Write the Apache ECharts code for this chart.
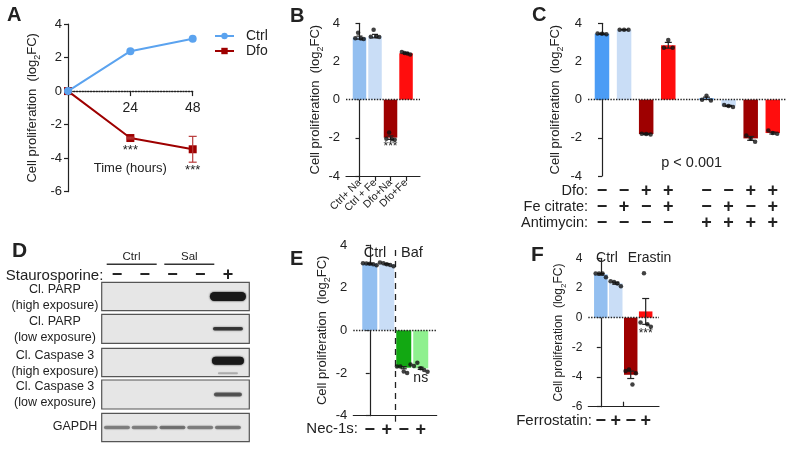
<!DOCTYPE html>
<html>
<head>
<meta charset="utf-8">
<script src="https://cdn.jsdelivr.net/npm/echarts@6.0.0/dist/echarts.min.js"></script>
<style>
  html, body { margin: 0; padding: 0; background: #fff; }
  #main { width: 797px; height: 452px; }
</style>
</head>
<body>
<div id="main"></div>
<script>
// ---- A: time course ----
const hoursA = [0, 24, 48];
const ctrlA = [0, 2.38, 3.12];
const dfoA = [0, -2.8, -3.47];
const dfoSemA = [0, 0.05, 0.77];

// ---- B: iron rescue ----
const catsB = ['Ctrl+ Na', 'Ctrl + Fe', 'Dfo+Na', 'Dfo+Fe'];
const meanB = [3.25, 3.33, -1.99, 2.43];
const semB = [0.08, 0.09, 0.09, 0.03];
const dotsB = [
  [3.22, 3.5, 3.2, 3.18],
  [3.3, 3.66, 3.32, 3.28],
  [-2.05, -1.72, -2.08, -2.1],
  [2.5, 2.44, 2.42, 2.36]
];

// ---- C: antimycin ----
const dfoC = ['−', '−', '+', '+', '−', '−', '+', '+'];
const feC = ['−', '+', '−', '+', '−', '+', '−', '+'];
const antiC = ['−', '−', '−', '−', '+', '+', '+', '+'];
const meanC = [3.45, 3.66, -1.8, 2.85, 0.07, -0.33, -2.03, -1.75];
const semC = [0.03, 0.01, 0.03, 0.15, 0.06, 0.03, 0.1, 0.05];
const dotsC = [
  [3.47, 3.45, 3.42],
  [3.66, 3.66, 3.66],
  [-1.78, -1.8, -1.83],
  [2.72, 3.12, 2.72],
  [0.0, 0.2, -0.05],
  [-0.28, -0.33, -0.38],
  [-1.88, -2.05, -2.2],
  [-1.62, -1.75, -1.78]
];

// ---- D: western blot (relative band intensity per lane) ----
const signsD = ['−', '−', '−', '−', '+'];
const parpHigh = [0, 0, 0, 0, 1];
const parpLow = [0, 0, 0, 0, 0.75];
const caspHigh = [0, 0, 0, 0, 1];
const caspHighLower = [0, 0, 0, 0, 0.25];
const caspLow = [0, 0, 0, 0, 0.6];
const gapdh = [0.42, 0.42, 0.48, 0.42, 0.45];

// ---- E: bafilomycin ----
const necE = ['−', '+', '−', '+'];
const meanE = [3.12, 3.1, -1.75, -1.78];
const semE = [0.02, 0.03, 0.05, 0.05];
const dotsE = [
  [3.15, 3.13, 3.12, 3.1, 3.05],
  [3.18, 3.14, 3.1, 3.06, 3.0],
  [-1.7, -1.7, -1.93, -2.0, -1.6],
  [-1.67, -1.52, -1.78, -1.86, -1.94]
];

// ---- F: erastin ----
const ferF = ['−', '+', '−', '+'];
const meanF = [2.92, 2.32, -3.85, 0.42];
const semF = [0.05, 0.07, 0.25, 0.87];
const dotsF = [
  [2.98, 2.98, 2.98, 2.72],
  [2.45, 2.4, 2.3, 2.12],
  [-3.6, -3.5, -4.5, -3.75],
  [-0.32, 3.0, -0.45, -0.62]
];

const FONT = '"Liberation Sans", Arial, sans-serif';
const INK = '#222';
const BLUE_A = '#5ba3ef';
const BLUE_MID = '#93bff0';
const BLUE_LT = '#c9ddf6';
const BLUE_C = '#4b9cf5';
const DARK = '#9e0000';
const RED = '#ff0d0d';
const GREEN = '#12a812';
const LGREEN = '#8ff08f';

const option = {
  animation: false,
  textStyle: { fontFamily: FONT, color: INK },
  grid: [], xAxis: [], yAxis: [], series: [], graphic: []
};

function addGrid(rect, xAxis, yAxis) {
  const gi = option.grid.length;
  option.grid.push(Object.assign({ outerBoundsMode: 'none', containLabel: false }, rect));
  option.xAxis.push(Object.assign({ gridIndex: gi }, xAxis));
  option.yAxis.push(Object.assign({ gridIndex: gi }, yAxis));
  return gi;
}

function propAxis(min, max, fs, nameGap) {
  return {
    type: 'value', min, max, interval: 2,
    axisLine: { show: true, lineStyle: { color: INK, width: 1.2 } },
    axisTick: { show: true, length: 4, lineStyle: { color: INK, width: 1.2 } },
    axisLabel: { color: INK, fontSize: fs, margin: 6 },
    splitLine: { show: false },
    name: '{a|Cell proliferation  (log}{s|2}{a|FC)}',
    nameLocation: 'middle', nameGap,
    nameTextStyle: {
      rich: {
        a: { fontSize: fs, color: INK, lineHeight: fs + 6, fontFamily: FONT },
        s: { fontSize: Math.round(fs * 0.7), color: INK, lineHeight: 6, verticalAlign: 'bottom', fontFamily: FONT }
      }
    }
  };
}

function groupAxis(min, max, ticks, labels, label, tick, line) {
  return {
    type: 'value', min, max, splitLine: { show: false },
    axisLine: { show: line, onZero: false, lineStyle: { color: INK, width: 1.2 } },
    axisTick: tick ? Object.assign({ show: true, lineStyle: { color: INK, width: 1.2 } }, tick) : { show: false },
    axisLabel: Object.assign({
      customValues: ticks, color: INK,
      formatter: v => { const k = ticks.indexOf(v); return k < 0 ? '' : labels[k]; }
    }, label)
  };
}

const signLabel = { fontSize: 18, fontWeight: 'bold', lineHeight: 14 };

function marks(items) {
  return { silent: true, symbol: 'none', label: { show: false }, animation: false, data: items };
}
const zeroMark = { yAxis: 0, lineStyle: { type: 'dotted', color: INK, width: 1.4 } };
function divider(top, bottom) {
  return [{ coord: [1.5, top], lineStyle: { type: [6, 5], color: INK, width: 1.3 } }, { coord: [1.5, bottom] }];
}

function bars(gi, xs, means, colors, width, labels, markData) {
  return {
    type: 'bar', xAxisIndex: gi, yAxisIndex: gi, barWidth: width, z: 2,
    data: means.map((v, i) => {
      const d = { value: [xs[i], v], itemStyle: { color: colors[i] } };
      if (labels && labels[i]) d.label = labels[i];
      return d;
    }),
    markLine: marks(markData)
  };
}

function dots(gi, xs, groups, step) {
  const data = [];
  groups.forEach((g, i) => g.forEach((v, k) => data.push([xs[i] + (k - (g.length - 1) / 2) * step, v])));
  return { type: 'scatter', xAxisIndex: gi, yAxisIndex: gi, symbolSize: 4.5, z: 5, itemStyle: { color: '#111' }, data };
}

function errBars(gi, xs, means, sems, cap, color) {
  return {
    type: 'custom', xAxisIndex: gi, yAxisIndex: gi, z: 4, silent: true,
    data: means.map((m, i) => [xs[i], m - sems[i], m + sems[i]]),
    renderItem: (p, api) => {
      const x = api.value(0);
      const a = api.coord([x, api.value(1)]);
      const b = api.coord([x, api.value(2)]);
      const st = { stroke: color, lineWidth: 1.2 };
      return {
        type: 'group', children: [
          { type: 'line', shape: { x1: a[0], y1: a[1], x2: b[0], y2: b[1] }, style: st },
          { type: 'line', shape: { x1: a[0] - cap, y1: a[1], x2: a[0] + cap, y2: a[1] }, style: st },
          { type: 'line', shape: { x1: b[0] - cap, y1: b[1], x2: b[0] + cap, y2: b[1] }, style: st }
        ]
      };
    }
  };
}

function txt(x, y, s, size, extra) {
  option.graphic.push({
    type: 'text', x, y, silent: true,
    style: Object.assign({ text: s, fontSize: size, fontFamily: FONT, fill: INK, align: 'center', verticalAlign: 'middle' }, extra)
  });
}
function hline(x1, x2, y) {
  option.graphic.push({ type: 'line', silent: true, shape: { x1, y1: y, x2, y2: y }, style: { stroke: '#333', lineWidth: 1.5 } });
}

// ===== Panel A =====
// x axis sits on the zero line: shift it up from the grid bottom by the 0..-6 span
const topA = 24, heightA = 167.7, minA = -6, maxA = 4;
const zeroShiftA = heightA * (0 - minA) / (maxA - minA);
const gA = addGrid({ left: 68, top: topA, width: 124.7, height: heightA }, {
  type: 'value', min: 0, max: 48, interval: 24, offset: -zeroShiftA,
  axisLine: { onZero: false, lineStyle: { color: INK, type: 'dotted', width: 1.4 } },
  axisTick: { show: true, length: 5, lineStyle: { color: INK, width: 1.2 } },
  axisLabel: { fontSize: 14, color: INK, margin: 10, formatter: v => (v === 0 ? '' : String(v)) },
  splitLine: { show: false },
  name: 'Time (hours)', nameLocation: 'middle', nameGap: 71,
  nameTextStyle: { fontSize: 13, color: INK }
}, propAxis(minA, maxA, 13, 26));

const starA = [null, { d: 2 }, { d: 11 }];
option.series.push({
  type: 'line', name: 'Dfo', xAxisIndex: gA, yAxisIndex: gA, z: 3,
  symbol: 'rect', symbolSize: 8,
  lineStyle: { color: DARK, width: 2 }, itemStyle: { color: DARK },
  data: hoursA.map((h, i) => {
    const d = { value: [h, dfoA[i]] };
    if (starA[i]) d.label = { show: true, position: 'bottom', distance: starA[i].d, formatter: '***', fontSize: 13, color: INK };
    return d;
  })
});
option.series.push(errBars(gA, hoursA, dfoA, dfoSemA, 4, '#b83a3a'));
option.series.push({
  type: 'line', name: 'Ctrl', xAxisIndex: gA, yAxisIndex: gA, z: 4,
  symbol: 'circle', symbolSize: 8,
  lineStyle: { color: BLUE_A, width: 2 }, itemStyle: { color: BLUE_A },
  data: hoursA.map((h, i) => [h, ctrlA[i]])
});
option.legend = {
  data: ['Ctrl', 'Dfo'], orient: 'vertical', left: 209, top: 24,
  itemWidth: 19, itemHeight: 8, itemGap: 1,
  textStyle: { fontSize: 14, color: INK, padding: [0, 0, 0, 7] }
};

// ===== Panel B =====
const posB = catsB.map((_, i) => i);
const gB = addGrid({ left: 346, top: 23.3, width: 74, height: 152.7 },
  groupAxis(-0.87, 3.9, posB, catsB, { rotate: 45, fontSize: 10.5, margin: 5 }, { customValues: posB, length: 5 }, true),
  propAxis(-4, 4, 13, 15));
const starB = { show: true, position: 'bottom', distance: 3, formatter: '***', fontSize: 12, color: INK };
option.series.push(bars(gB, posB, meanB, [BLUE_MID, BLUE_LT, DARK, RED], 13.5, [null, null, starB, null], [zeroMark]));
option.series.push(errBars(gB, posB, meanB, semB, 3, INK));
option.series.push(dots(gB, posB, dotsB, 0.18));

// ===== Panel C =====
const posC = meanC.map((_, i) => (i < 4 ? i : i + 0.73));
const rowsC = posC.map((_, i) => dfoC[i] + '\n' + feC[i] + '\n' + antiC[i]);
const gC = addGrid({ left: 588, top: 23.3, width: 198.7, height: 152.7 },
  groupAxis(-0.633, 8.36, posC, rowsC, { fontSize: 18, fontWeight: 'bold', lineHeight: 16, margin: 7 }, null, false),
  propAxis(-4, 4, 13, 23));
option.series.push(bars(gC, posC, meanC, [BLUE_C, BLUE_LT, DARK, RED, BLUE_C, BLUE_LT, DARK, RED], 14.5, null, [zeroMark]));
option.series.push(errBars(gC, posC, meanC, semC, 3.5, INK));
option.series.push(dots(gC, posC, dotsC, 0.2));

// ===== Panel D (blot) =====
const blotBoxes = [
  { top: 282.3, height: 28.4 },
  { top: 314.3, height: 29 },
  { top: 348.3, height: 28.4 },
  { top: 380, height: 29 },
  { top: 413.3, height: 28.4 }
];
const blotBands = [
  [{ v: parpHigh, y: 0, w: 36, h: 9 }],
  [{ v: parpLow, y: 0, w: 30, h: 3.5 }],
  [{ v: caspHigh, y: 0.12, w: 32, h: 8 }, { v: caspHighLower, y: -0.75, w: 20, h: 2 }],
  [{ v: caspLow, y: 0, w: 28, h: 4 }],
  [{ v: gapdh, y: 0, w: 26, h: 3.5 }]
];
const lanesD = signsD.map((_, i) => i);
blotBoxes.forEach((b, r) => {
  const top = r === 0;
  const gi = addGrid(
    { left: 101.7, width: 147.6, top: b.top, height: b.height, show: true, backgroundColor: '#e6e6e6', borderColor: '#555', borderWidth: 1.2 },
    top
      ? Object.assign(groupAxis(-0.55, 4.77, lanesD, signsD, Object.assign({ margin: 0 }, signLabel), null, false), { position: 'top' })
      : { type: 'value', min: -0.55, max: 4.77, show: false },
    { type: 'value', min: -1, max: 1, show: false }
  );
  blotBands[r].forEach(band => {
    option.series.push({
      type: 'custom', xAxisIndex: gi, yAxisIndex: gi, silent: true, z: 3,
      data: band.v.map((a, i) => [i, band.y, a]),
      renderItem: (p, api) => {
        const a = api.value(2);
        if (a <= 0) return { type: 'group', children: [] };
        const c = api.coord([api.value(0), api.value(1)]);
        return {
          type: 'rect',
          shape: { x: c[0] - band.w / 2, y: c[1] - band.h / 2, width: band.w, height: band.h, r: band.h / 2 },
          style: { fill: 'rgba(25,25,25,' + a + ')', shadowBlur: 2, shadowColor: 'rgba(25,25,25,' + a + ')' }
        };
      }
    });
  });
});

// ===== Panel E =====
const posE = necE.map((_, i) => i);
const gE = addGrid({ left: 353.3, top: 245, width: 83.4, height: 170.7 },
  groupAxis(-0.97, 3.94, posE, necE, Object.assign({ margin: 7 }, signLabel), { customValues: [1.5], length: 6 }, true),
  propAxis(-4, 4, 13, 18));
const nsE = { show: true, position: 'bottom', distance: 3, formatter: 'ns', fontSize: 14, color: INK };
option.series.push(bars(gE, posE, meanE, [BLUE_MID, BLUE_LT, GREEN, LGREEN], 15, [null, null, null, nsE], [zeroMark, divider(3.77, -4)]));
option.series.push(errBars(gE, posE, meanE, semE, 3, INK));
option.series.push(dots(gE, posE, dotsE, 0.2));

// ===== Panel F =====
const posF = ferF.map((_, i) => i);
const gF = addGrid({ left: 588.3, top: 258.3, width: 70.7, height: 148.4 },
  groupAxis(-0.835, 3.89, posF, ferF, Object.assign({ margin: 7 }, signLabel), { customValues: [1.5], length: 5, inside: true }, true),
  propAxis(-6, 4, 12, 16));
const starF = { show: true, position: 'bottom', distance: 10, formatter: '***', fontSize: 12, color: INK };
option.series.push(bars(gF, posF, meanF, [BLUE_MID, BLUE_LT, DARK, RED], 13.5, [null, null, null, starF], [zeroMark, divider(4.35, -4.68)]));
option.series.push(errBars(gF, posF, meanF, semF, 3.5, INK));
option.series.push(dots(gF, posF, dotsF, 0.23));

// ===== text annotations =====
const bold = { fontWeight: 'bold', align: 'left' };
txt(7, 15, 'A', 20, bold);
txt(290, 16, 'B', 20, bold);
txt(532, 15, 'C', 20, bold);
txt(12, 251, 'D', 21, bold);
txt(290, 259, 'E', 20, bold);
txt(531, 255, 'F', 21, bold);

txt(691.7, 163, 'p < 0.001', 14.5);
txt(588, 190.7, 'Dfo:', 14.5, { align: 'right' });
txt(588, 207.3, 'Fe citrate:', 14.5, { align: 'right' });
txt(588, 222.7, 'Antimycin:', 14.5, { align: 'right' });

txt(103.3, 276, 'Staurosporine:', 15, { align: 'right' });
txt(131.5, 257, 'Ctrl', 11.5);
txt(189.3, 257, 'Sal', 11.5);
hline(106.7, 156.7, 264.3);
hline(164.3, 214.3, 264.3);
txt(55, 298, 'Cl. PARP\n(high exposure)', 12.5, { lineHeight: 16 });
txt(55, 330, 'Cl. PARP\n(low exposure)', 12.5, { lineHeight: 16 });
txt(55, 363.3, 'Cl. Caspase 3\n(high exposure)', 12.5, { lineHeight: 16 });
txt(55, 394.5, 'Cl. Caspase 3\n(low exposure)', 12.5, { lineHeight: 16 });
txt(75, 427, 'GAPDH', 12.5);

txt(375, 253, 'Ctrl', 14.5);
txt(412, 253, 'Baf', 14.5);
txt(358, 429, 'Nec-1s:', 15, { align: 'right' });

txt(607, 258, 'Ctrl', 14);
txt(649.5, 258, 'Erastin', 14);
txt(592, 421, 'Ferrostatin:', 15, { align: 'right' });

const chart = echarts.init(document.getElementById('main'), null, { renderer: 'canvas' });
chart.setOption(option);
</script>
</body>
</html>
